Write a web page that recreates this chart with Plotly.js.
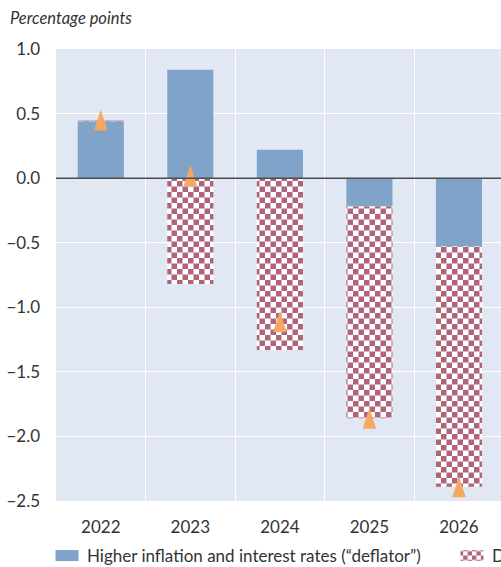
<!DOCTYPE html>
<html><head><meta charset="utf-8">
<script src="https://cdn.plot.ly/plotly-3.0.1.min.js"></script>
<style>html,body{margin:0;padding:0;overflow:hidden;background:#fff}</style>
</head><body><div id="chart"></div>
<script>
// ---- data ----
const years = ['2022', '2023', '2024', '2025', '2026'];
const deflatorEffect = [0.44, 0.84, 0.22, -0.22, -0.53];
const otherEffect = [0.01, -0.82, -1.33, -1.64, -1.86];
const totalEffect = [0.45, 0.02, -1.11, -1.86, -2.39];
const yTickVals = [1.0, 0.5, 0.0, -0.5, -1.0, -1.5, -2.0, -2.5];
const seriesNames = ['Higher inflation and interest rates (\u201cdeflator\u201d)', 'Denominator effect', 'Total'];

// ---- styling ----
// The reference is cropped on the right; the figure is drawn wider and the window clips it.
const W = 900, H = 567;
const PLOT_L = 56, PLOT_R = W - 4;
const CAT_PX = 89.55;                       // pixel width of one category slot
const xMax = -0.5 + (PLOT_R - PLOT_L) / CAT_PX;
const Y_RANGE = [-2.5, 1.0];
const PLOT_T = 49, PLOT_B = 501;
const pxPerUnit = (PLOT_B - PLOT_T) / (Y_RANGE[1] - Y_RANGE[0]);
const MARKER_SIZE = 22;
const arrowCentre = MARKER_SIZE / 2 * 2 * Math.sin(Math.PI / 2.5) / 2;   // half the arrow height, px
const yShift = arrowCentre / pxPerUnit;    // lifts the arrow so its centre sits on the value

const BLUE = '#7FA3C9', RED = '#B0647A', ORANGE = '#F5A862', BG = '#E1E8F4', TXT = '#333333';
const FONT = 'Lato, "Open Sans", sans-serif';

const traces = [
  {type: 'bar', x: years, y: deflatorEffect, name: seriesNames[0],
   marker: {color: BLUE, line: {width: 0}}, width: 0.515, hoverinfo: 'skip'},
  {type: 'bar', x: years, y: otherEffect, name: seriesNames[1],
   marker: {color: '#ffffff', line: {width: 0},
            pattern: {shape: '.', fgcolor: RED, bgcolor: '#ffffff', size: 11, solidity: 0.5, fillmode: 'replace'}},
   width: 0.515, hoverinfo: 'skip'},
  {type: 'scatter', mode: 'markers', x: years, y: totalEffect, name: seriesNames[2], showlegend: false,
   yaxis: 'y2',
   marker: {symbol: 'arrow', size: MARKER_SIZE, color: ORANGE, line: {width: 0}}, hoverinfo: 'skip'}
];

const layout = {
  width: W, height: H,
  margin: {l: PLOT_L, r: W - PLOT_R, t: PLOT_T, b: H - PLOT_B},
  paper_bgcolor: '#ffffff', plot_bgcolor: BG,
  barmode: 'relative', bargap: 0.485,
  font: {family: FONT, color: TXT, size: 17},
  title: {text: '<i>Percentage points</i>', font: {family: FONT, size: 16.5, color: TXT},
          xref: 'container', x: 10 / W, xanchor: 'left', yref: 'container', y: 1 - 18 / H, yanchor: 'middle'},
  xaxis: {type: 'category', categoryorder: 'array', categoryarray: years, range: [-0.5, xMax],
          tickson: 'boundaries', showgrid: true, gridcolor: '#ffffff', gridwidth: 1,
          ticks: '', showline: false, zeroline: false, ticklabelstandoff: 14,
          tickfont: {family: FONT, size: 17, color: TXT}, fixedrange: true},
  yaxis: {range: Y_RANGE, tickvals: yTickVals, tickformat: '.1f', showgrid: true,
          gridcolor: '#ffffff', gridwidth: 1, zeroline: false, ticks: '', showline: false,
          ticklabelstandoff: 15, tickfont: {family: FONT, size: 17, color: TXT}, fixedrange: true},
  yaxis2: {overlaying: 'y', range: [Y_RANGE[0] - yShift, Y_RANGE[1] - yShift], visible: false, fixedrange: true},
  shapes: [{type: 'line', xref: 'paper', x0: 0, x1: 1, yref: 'y', y0: 0, y1: 0,
            line: {color: '#4d4d4d', width: 1.5}, layer: 'above'}],
  showlegend: true,
  legend: {orientation: 'h', xref: 'container', yref: 'container', x: 47 / W, xanchor: 'left',
           y: 1 - 556 / H, yanchor: 'middle', font: {family: FONT, size: 17, color: TXT},
           entrywidth: 360, entrywidthmode: 'pixels',
           bgcolor: 'rgba(0,0,0,0)', traceorder: 'normal'}
};

function restyleDom(gd) {
  const NS = 'http://www.w3.org/2000/svg';
  gd.querySelectorAll('pattern').forEach(p => {
    const s = 11, h = s / 2;
    while (p.firstChild) p.removeChild(p.firstChild);
    p.setAttribute('width', s); p.setAttribute('height', s);
    const mk = (x, y, w, hh, c) => {
      const r = document.createElementNS(NS, 'rect');
      r.setAttribute('x', x); r.setAttribute('y', y); r.setAttribute('width', w); r.setAttribute('height', hh);
      r.setAttribute('fill', c); p.appendChild(r);
    };
    mk(0, 0, s, s, '#ffffff');
    mk(0, 0, h, h, RED);
    mk(h, h, h, h, RED);
  });
  // wider, flatter legend swatches like the reference
  gd.querySelectorAll('.legend .legendpoints path').forEach(p => {
    p.setAttribute('d', 'M11.5,5.5H-11.5V-5.5H11.5Z');
  });
}

Plotly.newPlot('chart', traces, layout, {displayModeBar: false, staticPlot: true}).then(gd => {
  restyleDom(gd);
  gd.on('plotly_afterplot', () => restyleDom(gd));
});
</script></body></html>
